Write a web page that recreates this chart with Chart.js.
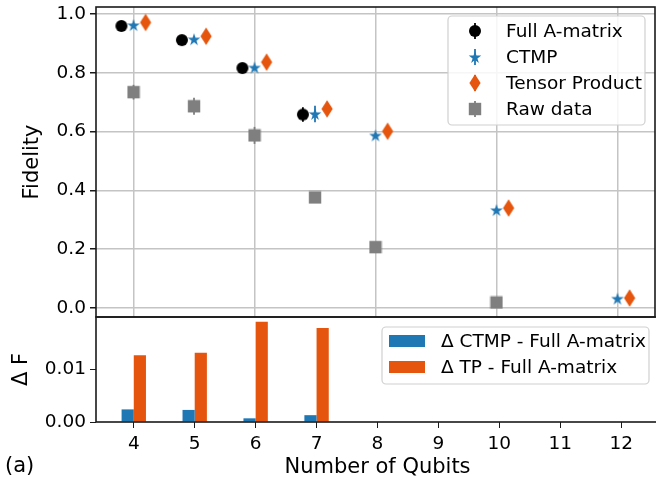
<!DOCTYPE html>
<html>
<head>
<meta charset="utf-8">
<script src="https://cdn.jsdelivr.net/npm/chart.js@4.4.1/dist/chart.umd.min.js"></script>
<style>
  html, body { margin: 0; padding: 0; background: #fff; overflow: hidden; width: 656px; height: 485px; }
  #wrap { position: relative; width: 662px; height: 485px; }
  canvas { position: absolute; left: 0; top: 0; }
</style>
</head>
<body>
<div id="wrap">
  <canvas id="fidelity" width="662" height="485"></canvas>
  <canvas id="delta" width="662" height="485"></canvas>
</div>
<script>
// ---- data ----
const qubits = [4, 5, 6, 7, 8, 10, 12];
const fullQubits = [4, 5, 6, 7];
const fullA = [0.959, 0.911, 0.816, 0.658];
const fullAErr = [0.006, 0.006, 0.007, 0.025];
const ctmp = [0.962, 0.914, 0.818, 0.660, 0.587, 0.333, 0.032];
const ctmpErr = [0.006, 0.006, 0.006, 0.028, 0.008, 0.008, 0.006];
const tensor = [0.971, 0.924, 0.836, 0.677, 0.601, 0.340, 0.034];
const tensorErr = [0.005, 0.005, 0.005, 0.006, 0.005, 0.005, 0.005];
const rawQubits = [4, 5, 6, 7, 8, 10];
const raw = [0.734, 0.686, 0.587, 0.376, 0.207, 0.019];
const rawErr = [0.025, 0.029, 0.029, 0.012, 0.008, 0.008];
const deltaQubits = [4, 5, 6, 7];
const deltaCtmp = [0.0024, 0.0023, 0.0007, 0.0013];
const deltaTp = [0.0127, 0.0132, 0.0191, 0.0179];
const fidelityTicks = [0, 0.2, 0.4, 0.6, 0.8, 1.0];
const deltaTicks = [0, 0.01];
const gridQubits = [4, 6, 8, 10, 12];
const qubitTicks = [4, 5, 6, 7, 8, 9, 10, 11, 12];

// ---- style ----
const FONT = "'DejaVu Sans', 'Liberation Sans', sans-serif";
const TICK_SIZE = 18.5;
const LABEL_SIZE = 21;
const BLACK = '#000000';
const BLUE = '#1f77b4';
const ORANGE = '#e6550d';
const GRAY = '#7f7f7f';
const SHIFT = 0.2;           // horizontal spread of the three methods around each qubit count
const X_MIN = 3.38, X_MAX = 12.62;
const AXIS_W = 96;

Chart.defaults.font.family = FONT;
Chart.defaults.font.size = TICK_SIZE;
Chart.defaults.color = '#000';
Chart.defaults.animation = false;

// ---- marker sprites ----
function sprite(w, h, color, draw) {
  const c = document.createElement('canvas');
  c.width = w; c.height = h;
  const g = c.getContext('2d');
  g.translate(w / 2, h / 2);
  g.fillStyle = color;
  draw(g);
  return c;
}
const circleMk = sprite(14, 14, BLACK, g => { g.beginPath(); g.arc(0, 0, 6, 0, Math.PI * 2); g.fill(); });
const starMk = sprite(16, 16, BLUE, g => {
  const R = 6.6, r = R * 0.381966;
  g.beginPath();
  for (let k = 0; k < 10; k++) {
    const a = -Math.PI / 2 + k * Math.PI / 5;
    const rr = k % 2 ? r : R;
    g.lineTo(rr * Math.cos(a), rr * Math.sin(a) + 0.6);
  }
  g.closePath(); g.fill();
});
const diamondMk = sprite(14, 20, ORANGE, g => {
  g.beginPath(); g.moveTo(0, -8.8); g.lineTo(5.6, 0); g.lineTo(0, 8.8); g.lineTo(-5.6, 0); g.closePath(); g.fill();
});
const squareMk = sprite(14, 14, GRAY, g => { g.fillRect(-6.2, -6.2, 12.4, 12.4); });

function points(xs, ys, dx) { return xs.map((q, i) => ({ x: q + dx, y: ys[i] })); }

// ---- plugins ----
const errorBars = {
  id: 'errorBars',
  beforeDatasetsDraw(chart) {
    const { ctx, scales: { x, y } } = chart;
    chart.data.datasets.forEach(ds => {
      if (!ds.errors) return;
      ctx.save();
      ctx.strokeStyle = ds.errColor;
      ctx.lineWidth = 1.8;
      ds.data.forEach((p, i) => {
        const px = x.getPixelForValue(p.x);
        ctx.beginPath();
        ctx.moveTo(px, y.getPixelForValue(p.y - ds.errors[i]));
        ctx.lineTo(px, y.getPixelForValue(p.y + ds.errors[i]));
        ctx.stroke();
      });
      ctx.restore();
    });
  }
};

const frame = {
  id: 'frame',
  afterDraw(chart) {
    const { ctx, chartArea: a } = chart;
    ctx.save();
    ctx.strokeStyle = '#1a1a1a';
    ctx.lineWidth = 1.6;
    ctx.strokeRect(a.left, a.top, a.right - a.left, a.bottom - a.top);
    ctx.restore();
  }
};

function roundRect(ctx, x, y, w, h, r) {
  ctx.beginPath();
  ctx.moveTo(x + r, y);
  ctx.arcTo(x + w, y, x + w, y + h, r);
  ctx.arcTo(x + w, y + h, x, y + h, r);
  ctx.arcTo(x, y + h, x, y, r);
  ctx.arcTo(x, y, x + w, y, r);
  ctx.closePath();
}

function legendBox(ctx, left, top, right, bottom) {
  ctx.save();
  roundRect(ctx, left, top, right - left, bottom - top, 4);
  ctx.fillStyle = 'rgba(255,255,255,0.85)';
  ctx.fill();
  ctx.strokeStyle = '#d0d0d0';
  ctx.lineWidth = 1.2;
  ctx.stroke();
  ctx.restore();
}

const fidelityLegend = {
  id: 'fidelityLegend',
  afterDraw(chart) {
    const { ctx, chartArea: a } = chart;
    const right = a.right - 10, top = a.top + 9;
    legendBox(ctx, 448, top, right, top + 109);
    ctx.save();
    ctx.font = TICK_SIZE + 'px ' + FONT;
    ctx.textBaseline = 'middle';
    ctx.fillStyle = '#000';
    chart.data.datasets.forEach((ds, i) => {
      const cy = top + 15 + 26 * i;
      const mx = 475;
      ctx.strokeStyle = ds.errColor;
      ctx.lineWidth = 1.8;
      ctx.beginPath(); ctx.moveTo(mx, cy - 8); ctx.lineTo(mx, cy + 8); ctx.stroke();
      const mk = ds.pointStyle;
      ctx.drawImage(mk, mx - mk.width / 2, cy - mk.height / 2);
      ctx.fillText(ds.label, 506, cy + 1);
    });
    ctx.restore();
  }
};

const deltaLegend = {
  id: 'deltaLegend',
  afterDraw(chart) {
    const { ctx, chartArea: a } = chart;
    const right = a.right - 10, top = a.top + 10;
    legendBox(ctx, 382, top, right, top + 57);
    ctx.save();
    ctx.font = TICK_SIZE + 'px ' + FONT;
    ctx.textBaseline = 'middle';
    chart.data.datasets.forEach((ds, i) => {
      const cy = top + 14 + 26 * i;
      ctx.fillStyle = ds.backgroundColor;
      ctx.fillRect(389, cy - 6, 36, 12);
      ctx.fillStyle = '#000';
      ctx.fillText(ds.label, 441, cy + 1);
    });
    // panel tag
    ctx.font = LABEL_SIZE + 'px ' + FONT;
    ctx.textBaseline = 'middle';
    ctx.fillText('(a)', 5, 467);
    ctx.restore();
  }
};

function fixBox(w, h) {
  return s => {
    if (w !== null) s.width = w;
    if (h !== null) s.height = h;
    s.paddingTop = 0; s.paddingBottom = 0; s.paddingLeft = 0; s.paddingRight = 0;
  };
}
function setTicks(list) { return s => { s.ticks = list.map(v => ({ value: v })); }; }

// ---- fidelity panel ----
new Chart(document.getElementById('fidelity'), {
  type: 'scatter',
  data: {
    datasets: [
      { label: 'Full A-matrix', data: points(fullQubits, fullA, -SHIFT), errors: fullAErr, errColor: BLACK,
        pointStyle: circleMk, pointRadius: 6, backgroundColor: BLACK },
      { label: 'CTMP', data: points(qubits, ctmp, 0), errors: ctmpErr, errColor: BLUE,
        pointStyle: starMk, pointRadius: 6, backgroundColor: BLUE },
      { label: 'Tensor Product', data: points(qubits, tensor, SHIFT), errors: tensorErr, errColor: ORANGE,
        pointStyle: diamondMk, pointRadius: 6, backgroundColor: ORANGE },
      { label: 'Raw data', data: points(rawQubits, raw, 0), errors: rawErr, errColor: GRAY,
        pointStyle: squareMk, pointRadius: 6, backgroundColor: GRAY }
    ]
  },
  options: {
    responsive: false,
    layout: { padding: { top: 5, right: 3, left: 0, bottom: 0 } },
    plugins: { legend: { display: false }, tooltip: { enabled: false } },
    scales: {
      x: {
        type: 'linear', position: 'bottom', min: X_MIN, max: X_MAX,
        afterBuildTicks: setTicks(gridQubits),
        afterFit: fixBox(null, 168),
        ticks: { display: false },
        grid: { color: '#c4c4c4', lineWidth: 1.5, drawTicks: false },
        border: { display: false }
      },
      y: {
        type: 'linear', min: -0.0305, max: 1.0236,
        afterBuildTicks: setTicks(fidelityTicks),
        afterFit: fixBox(AXIS_W, null),
        ticks: { padding: 4, callback: v => v.toFixed(1) },
        grid: { color: '#c4c4c4', lineWidth: 1.5, tickColor: '#1a1a1a', tickLength: 6 },
        border: { display: false },
        title: { display: true, text: 'Fidelity', font: { size: LABEL_SIZE }, padding: { top: 20, bottom: 0 } }
      }
    }
  },
  plugins: [errorBars, frame, fidelityLegend]
});

// ---- difference panel ----
new Chart(document.getElementById('delta'), {
  type: 'bar',
  data: {
    datasets: [
      { label: 'Δ CTMP - Full A-matrix', data: points(deltaQubits, deltaCtmp, 0), backgroundColor: BLUE },
      { label: 'Δ TP - Full A-matrix', data: points(deltaQubits, deltaTp, 0), backgroundColor: ORANGE }
    ]
  },
  options: {
    responsive: false,
    layout: { padding: { top: 317, right: 3, left: 0, bottom: 0 } },
    plugins: { legend: { display: false }, tooltip: { enabled: false } },
    datasets: { bar: { categoryPercentage: 0.4, barPercentage: 1.0, borderWidth: 0 } },
    scales: {
      x: {
        type: 'linear', position: 'bottom', min: X_MIN, max: X_MAX, offset: false,
        afterBuildTicks: setTicks(qubitTicks),
        afterFit: fixBox(null, 63),
        ticks: { padding: 5, autoSkip: false, maxRotation: 0, callback: v => String(v) },
        grid: { drawOnChartArea: false, offset: false, color: '#1a1a1a', tickColor: '#1a1a1a', tickLength: 6 },
        border: { display: false },
        title: { display: true, text: 'Number of Qubits', font: { size: LABEL_SIZE }, padding: { top: 0, bottom: 5 } }
      },
      y: {
        type: 'linear', min: 0, max: 0.02,
        afterBuildTicks: setTicks(deltaTicks),
        afterFit: fixBox(AXIS_W, null),
        ticks: { padding: 4, callback: v => v.toFixed(2) },
        grid: { drawOnChartArea: false, color: '#1a1a1a', tickColor: '#1a1a1a', tickLength: 6 },
        border: { display: false },
        title: { display: true, text: 'Δ F', font: { size: LABEL_SIZE }, padding: { top: 9, bottom: 0 } }
      }
    }
  },
  plugins: [frame, deltaLegend]
});
</script>
</body>
</html>
